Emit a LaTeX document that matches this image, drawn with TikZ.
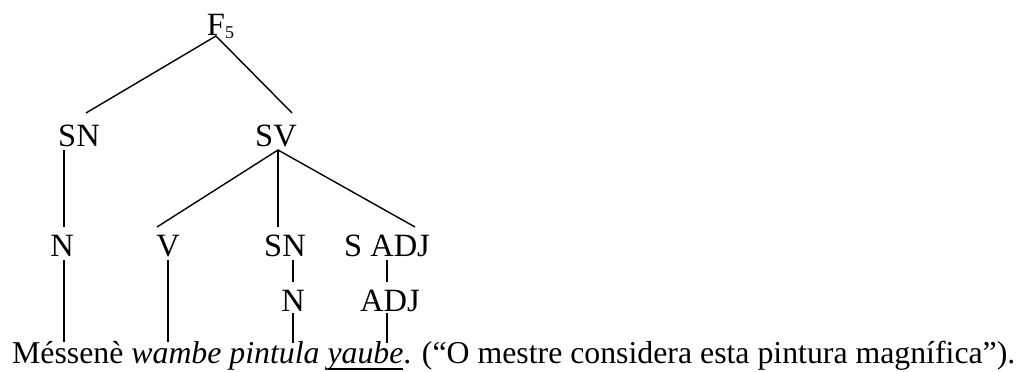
\documentclass[tikz,border=0pt]{standalone}
\usepackage{fontspec}
\setmainfont{Liberation Serif}
% heavier underline than the default math rule
\newcommand{\wordrule}[1]{\setbox0=\hbox{#1}\rlap{\rule[-7pt]{\wd0}{1.8pt}}\box0}
\begin{document}
\begin{tikzpicture}[x=1pt,y=-1pt,
  lab/.style={inner sep=0pt, anchor=base, font=\fontsize{32.5}{38}\selectfont},
  sentence/.style={inner sep=0pt, anchor=base west, font=\fontsize{31.8}{38}\selectfont},
  branch/.style={line width=1.4pt}]
\useasboundingbox (0,0) rectangle (1020,372);

% category labels
\node[lab] (f)    at (220.5,35) {F\raisebox{-3pt}{\fontsize{18}{18}\selectfont 5}};
\node[lab] (snA)  at (79,146)  {SN};
\node[lab] (sv)   at (276,146) {SV};
\node[lab] (nA)   at (62,256)  {N};
\node[lab] (v)    at (168,256) {V};
\node[lab] (snB)  at (285,256) {SN};
\node[lab] (sadj) at (387,256) {S ADJ};
\node[lab] (nB)   at (293,311) {N};
\node[lab] (adj)  at (390,311) {ADJ};

% the analysed sentence
\node[sentence] (sent) at (12,363)
  {Méssenè \textit{wambe pintula \wordrule{yaube}}. (“O mestre considera esta pintura magnífica”).};

% branch end points
\coordinate (fJ)     at (216,36);
\coordinate (snATop) at (86,113);
\coordinate (svTop)  at (292,113);
\coordinate (snABot) at (64,150);
\coordinate (nATop)  at (64,227);
\coordinate (svBot)  at (278,150);
\coordinate (vTop)   at (157,227);
\coordinate (snBTop) at (278,227);
\coordinate (sadjTop) at (415,227);
\coordinate (nABot)  at (64,260);
\coordinate (wA)     at (64,342);
\coordinate (vBot)   at (168,260);
\coordinate (wB)     at (168,342);
\coordinate (snBBot) at (293,260);
\coordinate (nBTop)  at (293,282);
\coordinate (sadjBot) at (387,260);
\coordinate (adjTop) at (387,282);
\coordinate (nBBot)  at (293,313);
\coordinate (wC)     at (293,343);
\coordinate (adjBot) at (387,313);
\coordinate (wD)     at (387,343);

% tree branches
\draw[branch] (snATop) -- (fJ) -- (svTop);
\draw[branch] (snABot) -- (nATop);
\draw[branch] (vTop) -- (svBot) -- (sadjTop);
\draw[branch] (svBot) -- (snBTop);
\draw[branch] (nABot) -- (wA);
\draw[branch] (vBot) -- (wB);
\draw[branch] (snBBot) -- (nBTop);
\draw[branch] (sadjBot) -- (adjTop);
\draw[branch] (nBBot) -- (wC);
\draw[branch] (adjBot) -- (wD);
\end{tikzpicture}
\end{document}
